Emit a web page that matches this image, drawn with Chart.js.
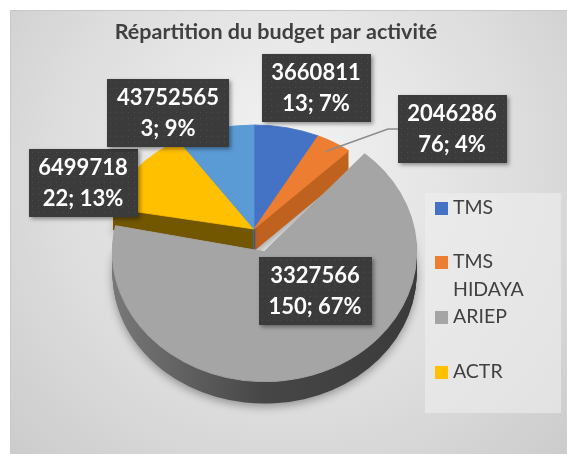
<!DOCTYPE html>
<html>
<head>
<meta charset="utf-8">
<script src="https://cdn.jsdelivr.net/npm/chart.js@4.4.1/dist/chart.umd.min.js"></script>
<style>
  html, body { margin: 0; padding: 0; background: #fff; }
  #wrap { width: 567px; height: 454px; }
</style>
</head>
<body>
<div id="wrap"><canvas id="budgetChart" width="567" height="454"></canvas></div>
<script>
// Budget per activity (the 5th slice has no visible legend entry in the source)
const activities = ['TMS', 'TMS HIDAYA', 'ARIEP', 'ACTR', ''];
const budgets = [366081113, 204628676, 3327566150, 649971822, 437525653];
// where the data label text wraps onto the second line
const labelBreaks = [7, 7, 7, 7, 8];
const exploded = [0, 0, 1, 0, 0];

const topColors = ['#4472c4', '#ed7d31', '#a5a5a5', '#ffc000', '#5b9bd5'];
const wallColors = ['#2f528f', '#c0621f', null, '#735700', '#2e75b6'];

// screen geometry of the tilted pie; the exploded (nearer) slice is drawn a bit larger
const PIE = { cx: 254, cy: 229, rx: 144, ry: 104, depth: 22, explode: 33, nearX: 1.056, nearY: 1.25 };
// centers of the data label boxes
const labelBoxes = [[316, 88], [452, 129], [315, 291], [83, 183], [168, 113]];
const legendRows = [208, 262, 317, 372];

function pieGeom(chart) {
    const arcs = chart.getDatasetMeta(0).data;
    const base = chart.$pieBase;
    return { arcs, cx: base.x, cy: base.y, R: base.R, sx: PIE.rx / base.R, sy: PIE.ry / base.R };
}

function project(g, x, y) {
    return [PIE.cx + (x - g.cx) * g.sx, PIE.cy + (y - g.cy) * g.sy];
}

// extra scale about the slice center for the exploded slice (fake perspective)
function nearTransform(ctx, arc, i) {
    if (!exploded[i]) return;
    ctx.translate(arc.x, arc.y);
    ctx.scale(PIE.nearX, PIE.nearY);
    ctx.translate(-arc.x, -arc.y);
}

const backgroundPlugin = {
    id: 'background',
    beforeDraw(chart) {
        const ctx = chart.ctx;
        ctx.save();
        ctx.fillStyle = '#fff';
        ctx.fillRect(0, 0, chart.width, chart.height);
        const grad = ctx.createRadialGradient(290, 140, 20, 290, 200, 430);
        grad.addColorStop(0, '#f1f1f1');
        grad.addColorStop(0.55, '#dcdcdc');
        grad.addColorStop(1, '#c6c6c6');
        ctx.fillStyle = grad;
        ctx.fillRect(10, 10, chart.width - 10, chart.height - 10);
        ctx.strokeStyle = '#c8c8c8';
        ctx.beginPath();
        ctx.moveTo(10.5, chart.height);
        ctx.lineTo(10.5, 10.5);
        ctx.lineTo(chart.width, 10.5);
        ctx.stroke();

        ctx.fillStyle = '#404040';
        ctx.font = 'bold 21.5px Lato';
        ctx.textAlign = 'center';
        ctx.textBaseline = 'middle';
        ctx.fillText('Répartition du budget par activité', 276, 32);
        ctx.restore();
    }
};

// pull the exploded slice out along its mid angle
const explodePlugin = {
    id: 'explode',
    afterUpdate(chart) {
        const arcs = chart.getDatasetMeta(0).data;
        const a = arcs[0];
        chart.$pieBase = { x: a.x, y: a.y, R: a.outerRadius };
        const dist = PIE.explode * a.outerRadius / PIE.rx;
        arcs.forEach((arc, i) => {
            if (!exploded[i] || arc.$near) return;
            const mid = (arc.startAngle + arc.endAngle) / 2;
            arc.x += Math.cos(mid) * dist;
            arc.y += Math.sin(mid) * dist;
            const draw = arc.draw.bind(arc);
            arc.draw = function(ctx) {
                ctx.save();
                nearTransform(ctx, arc, i);
                draw(ctx);
                ctx.restore();
            };
            arc.$near = true;
        });
    }
};

// tilt the pie and draw its side walls before the library draws the tops
const tiltPlugin = {
    id: 'tilt',
    beforeDatasetsDraw(chart) {
        const ctx = chart.ctx;
        const g = pieGeom(chart);
        ctx.save();
        ctx.translate(PIE.cx, PIE.cy);
        ctx.scale(g.sx, g.sy);
        ctx.translate(-g.cx, -g.cy);

        const wallGrad = ctx.createLinearGradient(g.cx - g.R, 0, g.cx + g.R * 1.1, 0);
        wallGrad.addColorStop(0, '#7c7c7c');
        wallGrad.addColorStop(0.5, '#474747');
        wallGrad.addColorStop(1, '#3a3a3a');

        for (let d = PIE.depth; d >= 1; d--) {
            g.arcs.forEach((arc, i) => {
                ctx.save();
                ctx.translate(0, d / g.sy);
                nearTransform(ctx, arc, i);
                if (d === PIE.depth) {
                    ctx.shadowColor = 'rgba(0,0,0,0.35)';
                    ctx.shadowBlur = 10;
                    ctx.shadowOffsetY = 3;
                }
                ctx.beginPath();
                ctx.moveTo(arc.x, arc.y);
                ctx.arc(arc.x, arc.y, arc.outerRadius, arc.startAngle, arc.endAngle);
                ctx.closePath();
                ctx.fillStyle = wallColors[i] || wallGrad;
                ctx.fill();
                ctx.restore();
            });
        }
    },
    afterDatasetsDraw(chart) {
        chart.ctx.restore();
    }
};

function drawLabelBox(ctx, bx, by, lines) {
    ctx.font = 'bold 22px Lato';
    const w = Math.round(Math.max(...lines.map(t => ctx.measureText(t).width)) + 20);
    const h = 68;
    const x = Math.round(bx - w / 2), y = Math.round(by - h / 2);
    ctx.save();
    ctx.shadowColor = 'rgba(0,0,0,0.4)';
    ctx.shadowBlur = 4;
    ctx.shadowOffsetX = 2;
    ctx.shadowOffsetY = 2;
    ctx.fillStyle = '#3b3b3b';
    ctx.fillRect(x, y, w, h);
    ctx.restore();
    ctx.fillStyle = 'rgba(255,255,255,0.09)';
    for (let yy = y + 3; yy < y + h; yy += 6) {
        for (let xx = x + 3; xx < x + w; xx += 6) ctx.fillRect(xx, yy, 1, 1);
    }
    ctx.fillStyle = '#ffffff';
    ctx.textAlign = 'center';
    ctx.textBaseline = 'middle';
    ctx.fillText(lines[0], bx, by - 15);
    ctx.fillText(lines[1], bx, by + 16);
    return { x, y, w, h };
}

const labelsPlugin = {
    id: 'sliceLabels',
    afterDraw(chart) {
        const ctx = chart.ctx;
        const g = pieGeom(chart);
        const total = budgets.reduce((s, v) => s + v, 0);
        ctx.save();
        budgets.forEach((v, i) => {
            const text = v + '; ' + Math.round(v / total * 100) + '%';
            const lines = [text.slice(0, labelBreaks[i]), text.slice(labelBreaks[i])];
            const [bx, by] = labelBoxes[i];
            const box = drawLabelBox(ctx, bx, by, lines);

            // leader line for the small orange slice
            if (i === 1) {
                const arc = g.arcs[i];
                const mid = (arc.startAngle + arc.endAngle) / 2;
                const [sx, sy] = project(g, arc.x + Math.cos(mid) * arc.outerRadius * 0.9,
                                            arc.y + Math.sin(mid) * arc.outerRadius * 0.9);
                ctx.strokeStyle = '#8c8c8c';
                ctx.lineWidth = 1.5;
                ctx.beginPath();
                ctx.moveTo(sx, sy);
                ctx.lineTo(box.x - 10, by);
                ctx.lineTo(box.x, by);
                ctx.stroke();
            }
        });

        // legend (only four entries are visible in the source)
        ctx.fillStyle = 'rgba(238,238,238,0.6)';
        ctx.fillRect(425, 193, 136, 220);
        ctx.font = '19.5px Lato';
        ctx.textAlign = 'left';
        ctx.textBaseline = 'middle';
        legendRows.forEach((ly, i) => {
            ctx.fillStyle = topColors[i];
            ctx.fillRect(435, ly - 6, 13, 13);
            ctx.fillStyle = '#404040';
            const words = activities[i].split(' ');
            if (ctx.measureText(activities[i]).width > 95 && words.length > 1) {
                ctx.fillText(words[0], 453, ly);
                ctx.fillText(words.slice(1).join(' '), 453, ly + 28);
            } else {
                ctx.fillText(activities[i], 453, ly);
            }
        });
        ctx.restore();
    }
};

const ctx = document.getElementById('budgetChart').getContext('2d');

let budgetChart = new Chart(ctx, {
    type: 'pie',
    data: {
        labels: activities,
        datasets: [{
            label: 'Budget',
            data: budgets,
            backgroundColor: topColors,
            borderColor: topColors,
            borderWidth: 1,
            clip: false
        }]
    },
    options: {
        responsive: false,
        animation: false,
        events: [],
        layout: { padding: { left: 100, right: 163, top: 75, bottom: 75 } },
        plugins: {
            legend: { display: false },
            tooltip: { enabled: false },
            title: { display: false }
        }
    },
    plugins: [backgroundPlugin, explodePlugin, tiltPlugin, labelsPlugin]
});
</script>
</body>
</html>
